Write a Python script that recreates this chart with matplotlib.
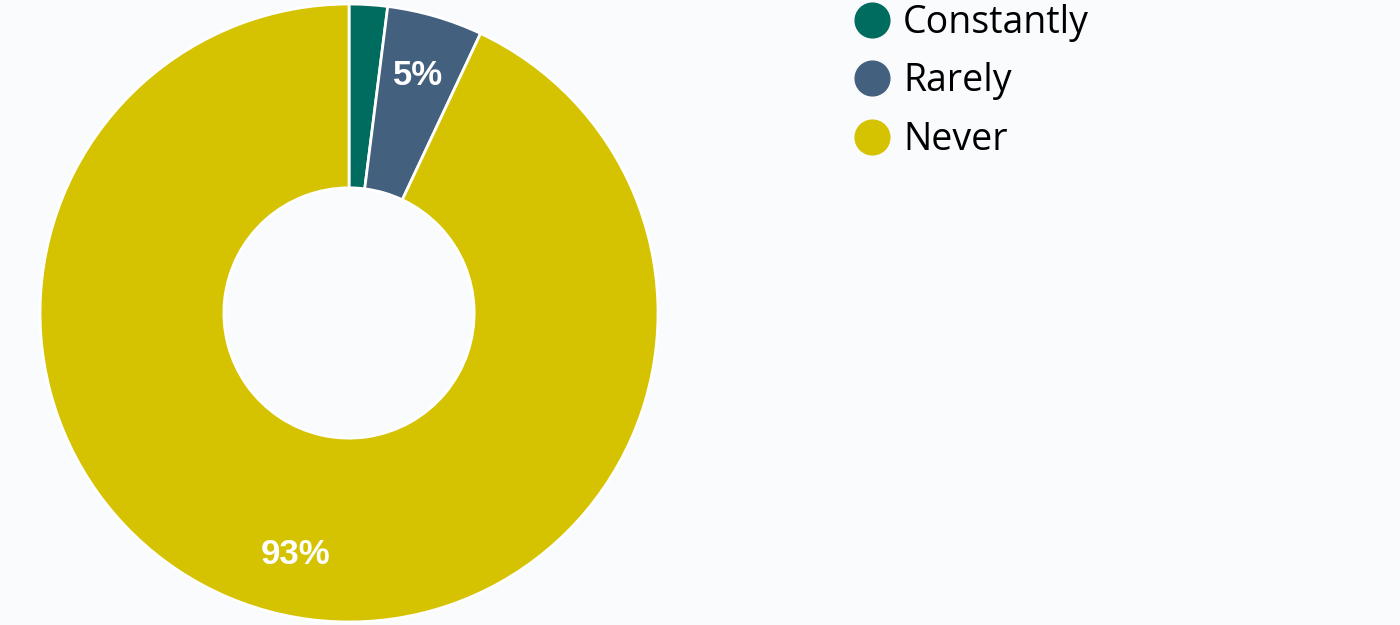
import matplotlib.pyplot as plt
from matplotlib.lines import Line2D

labels = ["Constantly", "Rarely", "Never"]
values = [2, 5, 93]
colors = ["#006B5F", "#43607F", "#D5C200"]

bg = "#F9FBFD"
fig = plt.figure(figsize=(14, 6.25), dpi=100, facecolor=bg)
ax = fig.add_axes([0.0286, 0.0048, 0.4414, 0.9888])
ax.set_facecolor(bg)

wedges, texts, autotexts = ax.pie(
    values, colors=colors, startangle=90, counterclock=False,
    radius=1.0, pctdistance=0.8,
    autopct=lambda p: "" if p < 3 else "{:.0f}%".format(p),
    wedgeprops=dict(width=0.595, edgecolor="white", linewidth=2),
    textprops=dict(color="white", fontsize=25, fontweight="bold",
                   family="Liberation Sans"))
ax.set_xlim(-1, 1)
ax.set_ylim(-1, 1)
ax.set_aspect("equal")
ax.axis("off")

handles = [Line2D([], [], marker="o", linestyle="none", markersize=25,
                  markerfacecolor=c, markeredgecolor=c) for c in colors]
fig.legend(handles, labels, loc="upper left", bbox_to_anchor=(0.583, 1.048),
           frameon=False, prop=dict(family="Open Sans", size=27),
           handletextpad=0.22, labelspacing=0.55, handlelength=1.2)

fig.savefig("out.png", facecolor=bg)
